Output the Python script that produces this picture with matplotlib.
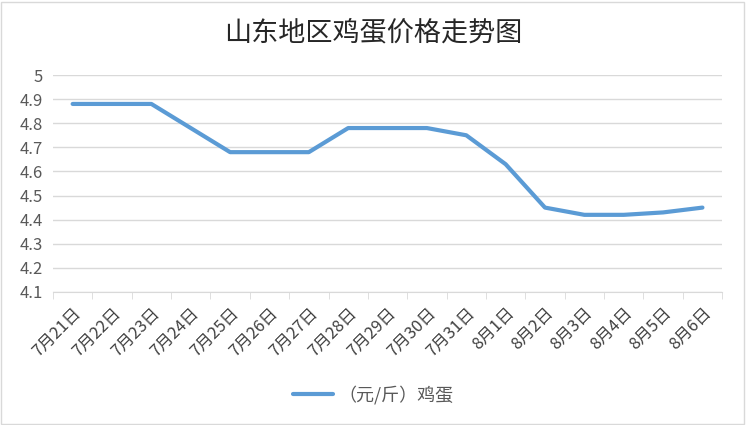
import matplotlib.pyplot as plt
from matplotlib.patches import Rectangle

plt.rcParams['font.family'] = ['Noto Sans CJK SC', 'DejaVu Sans']

dates = ['7月21日', '7月22日', '7月23日', '7月24日', '7月25日', '7月26日',
         '7月27日', '7月28日', '7月29日', '7月30日', '7月31日', '8月1日',
         '8月2日', '8月3日', '8月4日', '8月5日', '8月6日']
prices = [4.88, 4.88, 4.88, 4.78, 4.68, 4.68, 4.68, 4.78, 4.78, 4.78,
          4.75, 4.63, 4.45, 4.42, 4.42, 4.43, 4.45]
yticks = [4.1, 4.2, 4.3, 4.4, 4.5, 4.6, 4.7, 4.8, 4.9, 5]

fig = plt.figure(figsize=(7.46, 4.25), dpi=100)
ax = fig.add_axes([0.071, 0.313, 0.897, 0.5105])

x = list(range(len(dates)))
ax.plot(x, prices, color='#5B9BD5', linewidth=3, solid_capstyle='round',
        label='（元/斤）鸡蛋')

ax.set_xlim(-0.5, len(dates) - 0.5)
ax.set_ylim(4.1, 5)
ax.set_yticks(yticks)
ax.set_yticklabels([f'{v:g}' for v in yticks])
ax.grid(axis='y', color='#D9D9D9', linewidth=1)
ax.set_axisbelow(True)

# x ticks sit between categories, labels at category centres
ax.set_xticks([i - 0.5 for i in range(len(dates) + 1)], minor=True)
ax.set_xticks(x)
ax.set_xticklabels(dates, rotation=45, ha='right', rotation_mode='anchor')
ax.tick_params(axis='x', which='major', length=0, pad=9, labelsize=12,
               labelcolor='#404040')
ax.tick_params(axis='x', which='minor', length=5, color='#D9D9D9')
ax.tick_params(axis='y', length=0, labelsize=12, labelcolor='#595959', pad=7)

for side in ['top', 'right', 'left']:
    ax.spines[side].set_visible(False)
ax.spines['bottom'].set_color('#D9D9D9')

fig.suptitle('山东地区鸡蛋价格走势图', y=0.955, fontsize=19.5, color='#262626')
fig.legend(loc='center', bbox_to_anchor=(0.5, 0.07), frameon=False,
           fontsize=13, labelcolor='#595959', handlelength=2.2, handletextpad=0.3)

fig.patches.append(Rectangle((0.002, 0.003), 0.995, 0.993, transform=fig.transFigure,
                             fill=False, edgecolor='#D9D9D9', linewidth=1))

fig.savefig('out.png', dpi=100)
